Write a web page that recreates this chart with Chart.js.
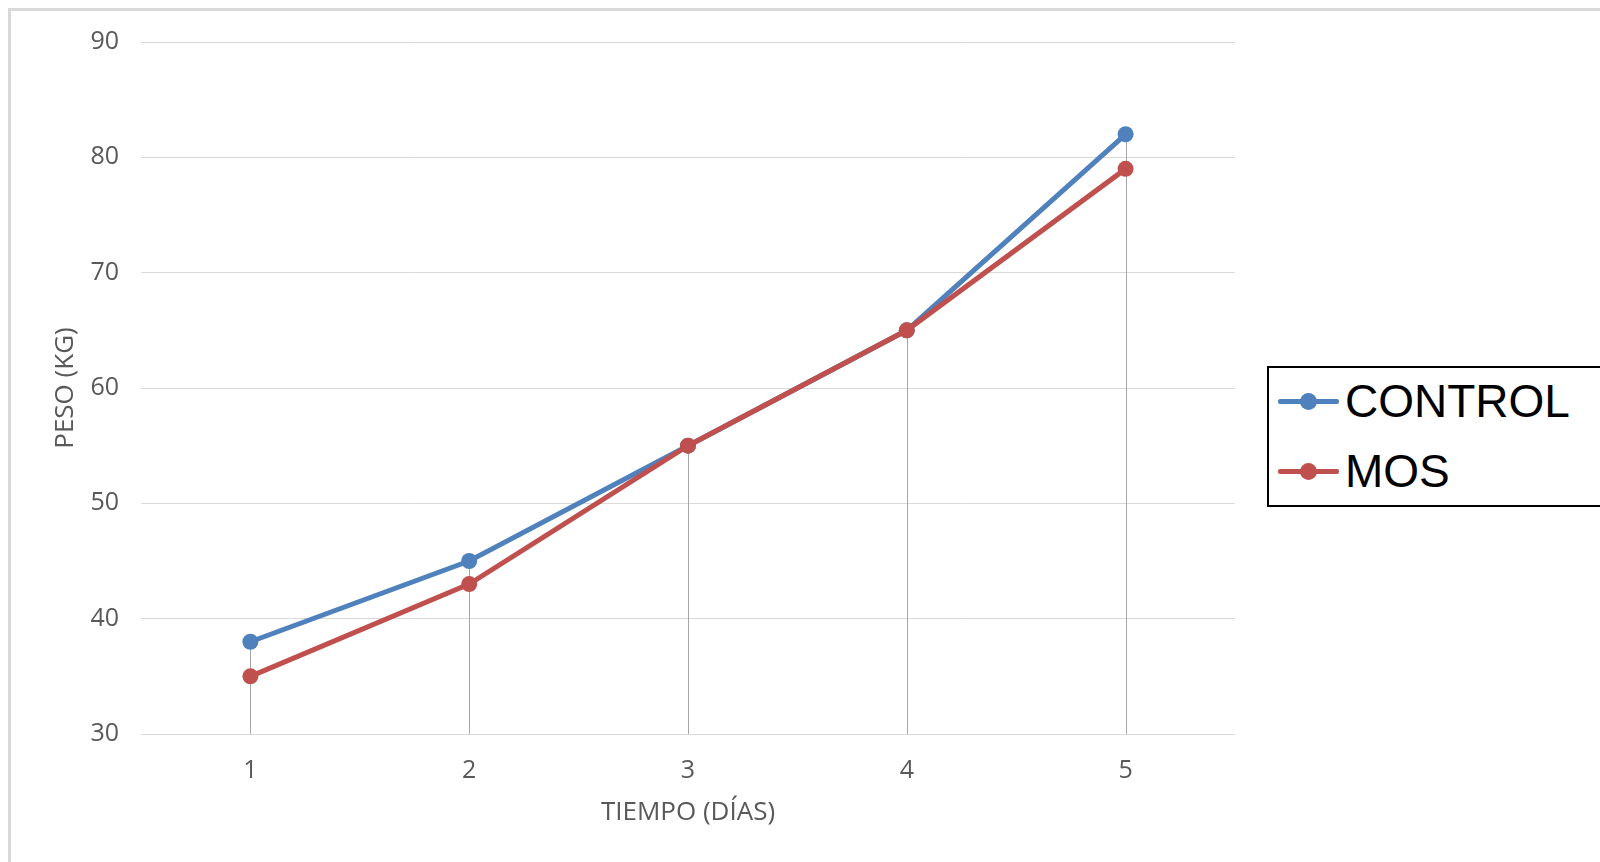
<!DOCTYPE html>
<html>
<head>
<meta charset="utf-8">
<script src="https://cdn.jsdelivr.net/npm/chart.js@4"></script>
<style>
 html,body {margin:0; padding:0; background:#fff; overflow:hidden;}
 #frameID {position:absolute; left:8px; top:8px; width:1700px; height:1000px; border:3px solid #d9d9d9; box-sizing:border-box;}
 #wrapID {position:absolute; left:0; top:0; width:1600px; height:862px;}
 #legendID {position:absolute; left:1267px; top:366px; width:400px; height:141px; border:2.5px solid #000; box-sizing:border-box; background:#fff;
  font-family:"Liberation Sans",Arial,sans-serif; font-size:46px; color:#000;}
 .lgRow {position:absolute; left:9px; height:50px; display:flex; align-items:center;}
 .lgMark {position:relative; width:61px; height:5px; border-radius:2px;}
 .lgDot {position:absolute; left:22px; top:-6px; width:17px; height:17px; border-radius:50%;}
 .lgText {margin-left:6px; line-height:50px;}
</style>
</head>
<body>
<div id="frameID"></div>
<div id="wrapID"><canvas id="chartID" width="1600" height="862"></canvas></div>
<div id="legendID"></div>
<script>
var dayLabels=['1','2','3','4','5'];
var controlVals=[38,45,55,65,82];
var mosVals=[35,43,55,65,79];
var seriesNames=['CONTROL','MOS'];
var seriesColors=['#4f81bd','#c0504d'];
var yMin=30, yMax=90, yStep=10;
var tickFont={family:'"Open Sans", sans-serif', size:25};

// vertical drop lines from the highest point of each day down to the axis
var dropLines={
 id:'dropLines',
 beforeDatasetsDraw(chart) {
  var ctx=chart.ctx, area=chart.chartArea;
  var n=chart.data.labels.length;
  ctx.save();
  ctx.strokeStyle='#a6a6a6';
  ctx.lineWidth=1;
  for (let j=0; j<n; j++) {
   var top=area.bottom, x=null;
   chart.data.datasets.forEach(function(ds,i) {
    var pt=chart.getDatasetMeta(i).data[j];
    if (pt) {top=Math.min(top,pt.y); x=pt.x;}
   });
   if (x===null) continue;
   x=Math.round(x)+0.5;
   ctx.beginPath(); ctx.moveTo(x,top); ctx.lineTo(x,area.bottom); ctx.stroke();
  }
  ctx.restore();
 }
};

var ctx=document.getElementById('chartID').getContext('2d');
var weightChart=new Chart(ctx,{
 type:'line',
 data:{labels:dayLabels, datasets:[
  {label:seriesNames[0], data:controlVals, borderColor:seriesColors[0], backgroundColor:seriesColors[0], order:2},
  {label:seriesNames[1], data:mosVals, borderColor:seriesColors[1], backgroundColor:seriesColors[1], order:1}
 ]},
 options:{
  responsive:false, animation:false,
  layout:{padding:{left:0, right:365, top:42, bottom:0}},
  elements:{
   line:{borderWidth:5, tension:0, borderCapStyle:'round'},
   point:{radius:8, borderWidth:0, hoverRadius:8}
  },
  plugins:{legend:{display:false}, tooltip:{enabled:false}},
  scales:{
   x:{
    offset:true,
    grid:{display:false, drawTicks:false},
    border:{display:false},
    ticks:{color:'#595959', font:tickFont, padding:22},
    title:{display:true, text:'TIEMPO (DÍAS)', color:'#595959', font:{family:'"Open Sans", sans-serif', size:26}, padding:{top:0, bottom:34}},
    afterFit:function(s) {s.height=128;}
   },
   y:{
    min:yMin, max:yMax,
    grid:{color:'#d9d9d9', lineWidth:1, drawTicks:false},
    border:{display:false},
    ticks:{stepSize:yStep, color:'#595959', font:tickFont, padding:22},
    title:{display:true, text:'PESO (KG)', color:'#595959', font:{family:'"Open Sans", sans-serif', size:26}, padding:{top:50, bottom:0}},
    afterFit:function(s) {s.width=141;}
   }
  }
 },
 plugins:[dropLines]
});

// legend box built from the datasets
var legendBox=document.getElementById('legendID');
weightChart.data.datasets.forEach(function(ds,i) {
 var row=document.createElement('div');
 row.className='lgRow';
 row.style.top=(8+i*70)+'px';
 row.innerHTML='<div class="lgMark" style="background:'+ds.borderColor+'"><div class="lgDot" style="background:'+ds.borderColor+'"></div></div><span class="lgText">'+ds.label+'</span>';
 legendBox.appendChild(row);
});
</script>
</body>
</html>
